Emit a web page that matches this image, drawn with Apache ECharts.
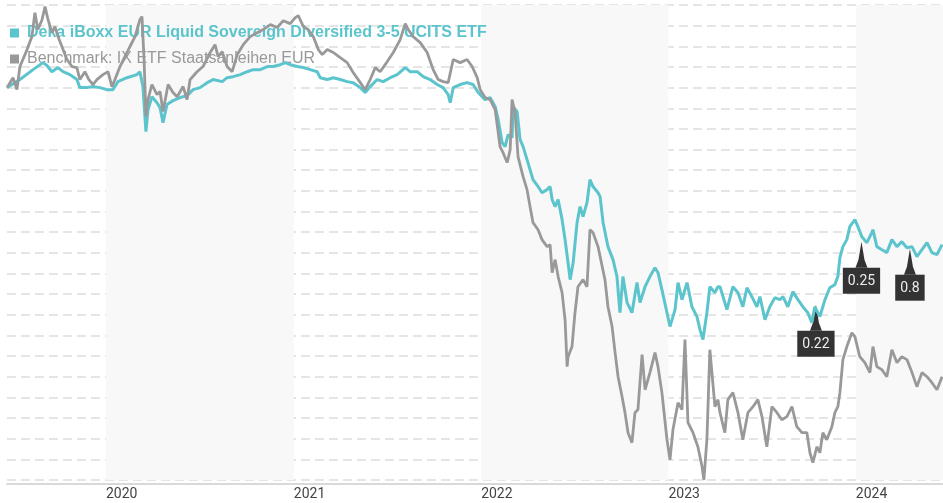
<!DOCTYPE html>
<html>
<head>
<meta charset="utf-8">
<script src="https://cdn.jsdelivr.net/npm/echarts@6/dist/echarts.min.js"></script>
<style>
html,body{margin:0;padding:0;background:#fff;}
#chart{width:943px;height:503px;}
</style>
</head>
<body>
<div id="chart"></div>
<script>
// ---- data (time as fractional year, values in % performance) ----
const dekaName = 'Deka iBoxx EUR Liquid Sovereign Diversified 3-5 UCITS ETF';
const benchName = 'Benchmark: IX ETF Staatsanleihen EUR';

const dekaYears = [2019.472,2019.541,2019.611,2019.664,2019.685,2019.712,2019.744,2019.771,2019.808,2019.845,2019.861,2019.899,2019.931,2019.968,
2020.005,2020.037,2020.064,2020.112,2020.165,2020.181,2020.197,2020.213,2020.224,2020.245,2020.272,2020.288,2020.304,2020.325,2020.357,2020.395,2020.432,2020.464,2020.501,2020.539,2020.571,2020.619,2020.645,2020.677,2020.715,2020.752,2020.784,2020.821,2020.859,2020.891,2020.928,2020.955,2020.981,
2021.019,2021.051,2021.088,2021.125,2021.141,2021.179,2021.211,2021.248,2021.285,2021.317,2021.355,2021.381,2021.408,2021.445,2021.477,2021.515,2021.552,2021.595,2021.621,2021.659,2021.691,2021.728,2021.765,2021.797,2021.824,2021.835,2021.851,2021.888,2021.925,2021.957,2021.984,
2022.021,2022.048,2022.075,2022.091,2022.112,2022.128,2022.144,2022.165,2022.171,2022.192,2022.208,2022.224,2022.245,2022.261,2022.277,2022.304,2022.325,2022.352,2022.368,2022.379,2022.395,2022.411,2022.432,2022.448,2022.464,2022.475,2022.491,2022.512,2022.528,2022.544,2022.565,2022.581,2022.597,2022.624,2022.635,2022.651,2022.677,2022.704,2022.725,2022.741,2022.757,2022.779,2022.805,2022.832,2022.848,2022.875,2022.901,2022.928,2022.944,2022.965,2022.992,
2023.008,2023.035,2023.051,2023.072,2023.099,2023.125,2023.152,2023.168,2023.184,2023.205,2023.221,2023.248,2023.264,2023.275,2023.312,2023.344,2023.371,2023.397,2023.419,2023.445,2023.472,2023.488,2023.515,2023.541,2023.568,2023.595,2023.611,2023.637,2023.664,2023.691,2023.717,2023.744,2023.765,2023.781,2023.808,2023.835,2023.861,2023.888,2023.904,2023.915,2023.931,2023.952,2023.968,2023.995,
2024.011,2024.032,2024.059,2024.085,2024.091,2024.112,2024.139,2024.165,2024.192,2024.219,2024.245,2024.272,2024.299,2024.325,2024.352,2024.379,2024.405,2024.432,2024.459];
const dekaValues = [0,0.39,0.87,1.21,1.07,0.77,0.97,0.77,0.63,0.39,0,0,0.05,0,
-0.10,-0.10,0.29,0.48,0.63,0.77,0.05,-2.13,-1.07,-0.44,-0.73,-0.97,-1.70,-0.82,-0.63,-0.48,-0.39,-0.10,0,0.24,0.39,0.29,0.48,0.53,0.63,0.77,0.87,0.87,1.02,1.02,1.11,1.21,1.11,
1.02,0.97,0.87,0.77,0.48,0.39,0.48,0.39,0.29,0.24,0,-0.24,0.05,0.39,0.29,0.48,0.63,0.97,0.77,0.77,0.53,0.39,0.15,0,-0.34,-0.73,0,0.15,0.24,0.15,-0.24,
-0.58,-0.48,-0.92,-1.55,-2.66,-2.86,-2.28,-2.42,-0.92,-1.16,-2.52,-2.86,-3.49,-3.97,-4.46,-4.79,-5.09,-4.94,-4.79,-5.42,-5.76,-5.42,-6.39,-7.36,-8.48,-9.30,-8.48,-6.54,-5.76,-6.25,-5.57,-4.46,-4.79,-5.09,-5.28,-6.54,-7.70,-8.33,-9.15,-10.90,-9.15,-10.41,-10.90,-9.44,-10.41,-9.64,-9.15,-8.72,-8.96,-9.78,-10.90,
-11.57,-10.75,-9.44,-10.27,-9.44,-10.61,-11.09,-11.72,-12.20,-10.90,-9.64,-9.93,-9.64,-9.64,-10.75,-9.64,-9.93,-10.61,-9.69,-10.12,-10.61,-10.12,-11.24,-10.61,-10.17,-10.27,-10.12,-10.61,-9.88,-10.27,-10.61,-10.90,-11.38,-10.61,-11.09,-10.27,-9.69,-9.54,-9.15,-8.23,-7.70,-7.36,-6.73,-6.39,
-6.73,-7.22,-7.51,-7.02,-6.88,-7.70,-7.85,-7.99,-7.36,-7.70,-7.46,-7.75,-7.70,-8.18,-7.85,-7.51,-7.99,-8.09,-7.60];

const benchYears = [2019.472,2019.504,2019.525,2019.541,2019.579,2019.605,2019.621,2019.637,2019.659,2019.675,2019.691,2019.712,2019.728,2019.744,2019.765,2019.792,2019.819,2019.845,2019.861,2019.888,2019.909,2019.931,2019.952,2019.984,
2020.011,2020.032,2020.048,2020.075,2020.101,2020.128,2020.155,2020.181,2020.192,2020.203,2020.213,2020.224,2020.245,2020.272,2020.288,2020.304,2020.331,2020.357,2020.379,2020.411,2020.432,2020.448,2020.485,2020.517,2020.555,2020.581,2020.597,2020.619,2020.645,2020.672,2020.699,2020.731,2020.768,2020.805,2020.837,2020.875,2020.912,2020.944,2020.981,
2021.008,2021.024,2021.051,2021.077,2021.104,2021.131,2021.152,2021.179,2021.211,2021.248,2021.285,2021.317,2021.355,2021.381,2021.408,2021.435,2021.461,2021.499,2021.531,2021.568,2021.595,2021.611,2021.637,2021.675,2021.712,2021.744,2021.771,2021.797,2021.824,2021.851,2021.888,2021.925,2021.952,2021.979,2021.995,
2022.021,2022.048,2022.075,2022.101,2022.117,2022.139,2022.155,2022.165,2022.181,2022.197,2022.224,2022.245,2022.261,2022.277,2022.304,2022.325,2022.352,2022.368,2022.379,2022.395,2022.411,2022.432,2022.448,2022.459,2022.464,2022.485,2022.501,2022.517,2022.544,2022.565,2022.581,2022.597,2022.624,2022.661,2022.677,2022.699,2022.715,2022.731,2022.752,2022.768,2022.784,2022.805,2022.821,2022.837,2022.859,2022.875,2022.901,2022.928,2022.944,2022.965,2022.992,
2023.008,2023.024,2023.051,2023.072,2023.088,2023.104,2023.131,2023.157,2023.179,2023.189,2023.205,2023.221,2023.248,2023.264,2023.275,2023.301,2023.317,2023.344,2023.371,2023.397,2023.424,2023.451,2023.477,2023.499,2023.525,2023.552,2023.579,2023.605,2023.632,2023.659,2023.685,2023.712,2023.739,2023.755,2023.771,2023.792,2023.808,2023.824,2023.845,2023.872,2023.888,2023.904,2023.915,2023.931,2023.952,2023.979,2023.995,
2024.021,2024.048,2024.075,2024.091,2024.112,2024.139,2024.165,2024.192,2024.219,2024.245,2024.272,2024.299,2024.325,2024.352,2024.379,2024.405,2024.432,2024.459];
const benchValues = [0,0.48,-0.10,1.02,1.84,2.47,3.63,2.81,3.29,3.92,3.29,2.66,2.95,2.47,1.99,1.36,1.02,0.97,0.39,0.77,0.39,0.15,0.39,0.63,
0.77,0.05,0.39,1.02,1.50,1.99,2.47,3.29,3.44,1.36,-1.40,-0.58,0.15,-0.34,-0.19,-1.16,0.15,-0.24,-0.44,0.05,-0.58,0.39,0.77,1.02,1.70,2.08,1.50,1.74,1.02,0.77,1.60,2.08,2.47,2.66,2.81,3.05,2.91,3.24,3.10,
3.39,3.49,2.95,2.81,2.47,1.84,1.60,1.84,1.70,1.45,1.21,0.73,0.24,-0.10,0.39,0.97,0.77,1.26,1.70,2.32,3.10,2.81,2.47,2.18,1.70,0.87,0.39,0.29,0.24,1.36,1.21,1.36,1.02,0.48,-0.10,
-0.48,-0.58,-1.07,-2.86,-3.15,-3.63,-3.00,-0.58,-1.21,-3.34,-4.31,-4.94,-5.76,-6.54,-6.88,-7.36,-7.70,-7.60,-8.96,-8.33,-9.15,-9.93,-11.24,-13.51,-13.03,-12.54,-10.90,-9.64,-9.30,-9.64,-6.88,-7.02,-7.70,-9.30,-10.61,-11.57,-12.83,-14.00,-14.96,-15.74,-16.71,-17.19,-15.74,-15.59,-12.93,-14.63,-13.80,-12.83,-13.51,-14.77,-17.05,
-18.02,-16.56,-15.26,-15.59,-12.20,-16.22,-16.71,-17.39,-18.35,-19.00,-17.05,-12.69,-15.45,-15.11,-15.74,-16.71,-15.11,-14.77,-15.74,-17.05,-15.74,-15.45,-15.11,-15.93,-17.39,-15.45,-15.74,-16.08,-15.93,-15.45,-16.42,-16.71,-16.71,-17.68,-18.16,-17.39,-17.68,-16.71,-17.05,-16.42,-15.74,-15.45,-14.77,-13.17,-12.54,-11.87,-12.06,
-13.03,-13.32,-13.80,-12.54,-13.51,-13.66,-14.00,-12.69,-13.32,-13.03,-13.17,-13.80,-14.48,-13.80,-14.00,-14.29,-14.63,-14.00];

// dividend markers (date, value at marker tip, amount)
const dividendYears = [2023.787, 2024.030, 2024.288];
const dividendValues = [-10.51, -7.46, -7.80];
const dividendLabels = ['0.22', '0.25', '0.8'];

// shaded (alternate) years and axis range
const shadedYears = [2020, 2022, 2024];
const rangeStart = 2019.472, rangeEnd = 2024.464;

// ---- helpers ----
function toTime(y) {
  const yr = Math.floor(y);
  const s = Date.UTC(yr, 0, 1), e = Date.UTC(yr + 1, 0, 1);
  return s + (y - yr) * (e - s);
}
const xMin = toTime(rangeStart), xMax = toTime(rangeEnd);

const chart = echarts.init(document.getElementById('chart'), null, {renderer: 'canvas'});
chart.setOption({
  animation: false,
  backgroundColor: '#ffffff',
  grid: {left: 7, right: 0, top: 5, bottom: 23, containLabel: false},
  legend: {
    orient: 'vertical', left: 5, top: 20, z: 3,
    icon: 'rect', itemWidth: 9, itemHeight: 9, itemGap: 10,
    selectedMode: false,
    textStyle: {fontSize: 16, fontFamily: 'Liberation Sans, Arial, sans-serif', padding: [0, 0, 0, 3]},
    data: [
      {name: dekaName, textStyle: {color: '#5bc4cc', fontWeight: 'bold'}},
      {name: benchName, textStyle: {color: '#999999'}}
    ]
  },
  xAxis: {
    type: 'time', min: xMin, max: xMax, offset: 4,
    minInterval: 360 * 86400000,
    axisLine: {show: true, onZero: false, lineStyle: {color: '#d9d9d9', width: 2}},
    axisTick: {show: false},
    splitLine: {show: false},
    axisLabel: {
      formatter: '{yyyy}', align: 'left', margin: 3,
      fontSize: 14, color: '#444', fontFamily: 'Roboto, sans-serif',
      showMinLabel: false, showMaxLabel: false
    }
  },
  yAxis: {
    type: 'value', min: -19, max: 4, interval: 1,
    axisLine: {show: false}, axisTick: {show: false}, axisLabel: {show: false},
    splitLine: {show: true, lineStyle: {color: '#dddddd', width: 1.5, type: [9, 5]}}
  },
  series: [
    {
      name: 'bands', type: 'line', data: [], z: 0, silent: true,
      markArea: {
        silent: true, z: 0,
        itemStyle: {color: '#f8f8f8'},
        data: shadedYears.map(y => [
          {xAxis: Math.max(toTime(y), xMin)},
          {xAxis: Math.min(toTime(y + 1), xMax)}
        ])
      }
    },
    {
      name: dekaName, type: 'line', z: 5,
      showSymbol: false, symbol: 'none',
      color: '#5bc4cc',
      lineStyle: {color: '#5bc4cc', width: 3},
      data: dekaYears.map((y, i) => [toTime(y), dekaValues[i]]),
      markPoint: {
        symbol: 'path://M6,0 L7,6 L8,12 L9,18 L12,26 L0,26 L3,18 L4,12 L5,6 Z',
        symbolSize: [12, 26],
        symbolOffset: [0, 13],
        itemStyle: {color: '#333333'},
        label: {
          show: true, position: 'bottom', distance: 0,
          formatter: p => p.name,
          backgroundColor: '#333333', color: '#eeeeee',
          fontSize: 14, fontFamily: 'Roboto, sans-serif',
          padding: [7, 5, 5, 5]
        },
        data: dividendYears.map((y, i) => ({name: dividendLabels[i], coord: [toTime(y), dividendValues[i]]}))
      }
    },
    {
      name: benchName, type: 'line', z: 6,
      showSymbol: false, symbol: 'none',
      color: '#999999',
      lineStyle: {color: '#999999', width: 2.8},
      data: benchYears.map((y, i) => [toTime(y), benchValues[i]])
    }
  ]
});
</script>
</body>
</html>
